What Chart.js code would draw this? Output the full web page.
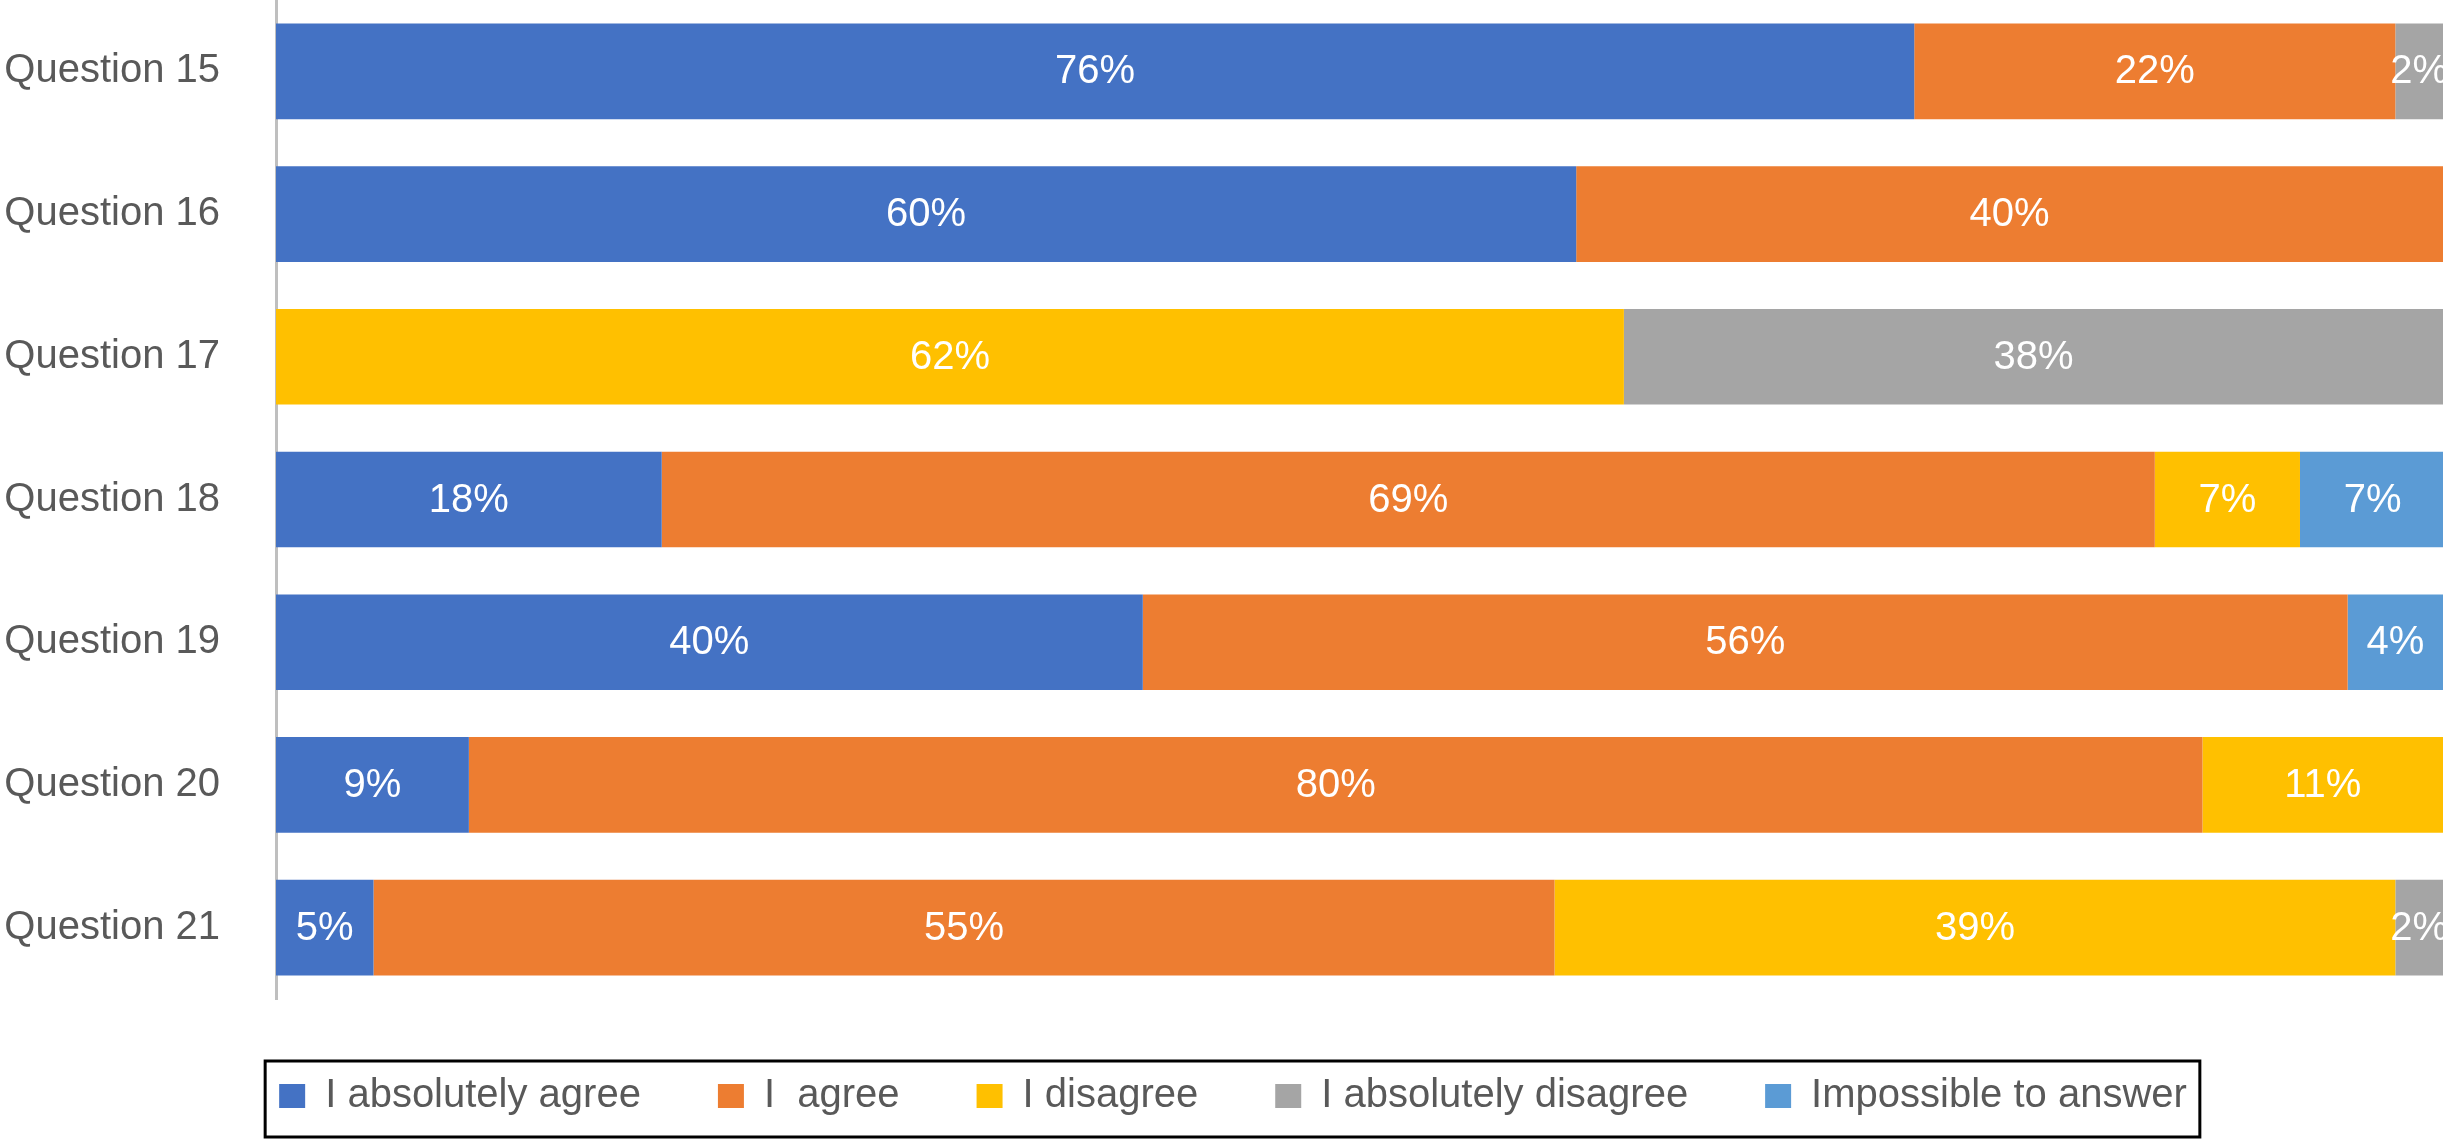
<!DOCTYPE html>
<html>
<head>
<meta charset="utf-8">
<script src="https://cdn.jsdelivr.net/npm/chart.js@4.4.1/dist/chart.umd.min.js"></script>
<style>
  html, body { margin: 0; padding: 0; background: #fff; }
  #wrap { width: 2449px; height: 1140px; }
</style>
</head>
<body>
<div id="wrap"><canvas id="grafico"></canvas></div>
<script>
const preguntas = ["Question 15", "Question 16", "Question 17", "Question 18", "Question 19", "Question 20", "Question 21"];

// porcentajes (segmentos de cada barra)
const absolutamenteDeAcuerdo = [75.6, 60.0, 0, 17.8, 40.0, 8.9, 4.5];
const deAcuerdo = [22.2, 40.0, 0, 68.9, 55.6, 80.0, 54.5];
const enDesacuerdo = [0, 0, 62.2, 6.7, 0, 11.1, 38.8];
const absolutamenteEnDesacuerdo = [2.2, 0, 37.8, 0, 0, 0, 2.2];
const imposibleResponder = [0, 0, 0, 6.7, 4.4, 0, 0];

const series = [
    { label: "I absolutely agree", data: absolutamenteDeAcuerdo, color: "#4472C4" },
    { label: "I  agree", data: deAcuerdo, color: "#ED7D31" },
    { label: "I disagree", data: enDesacuerdo, color: "#FFC000" },
    { label: "I absolutely disagree", data: absolutamenteEnDesacuerdo, color: "#A5A5A5" },
    { label: "Impossible to answer", data: imposibleResponder, color: "#5B9BD5" },
];

const fuente = '"Liberation Sans", Arial, Helvetica, sans-serif';

// etiquetas blancas dentro de cada segmento
const etiquetasBarras = {
    id: "etiquetasBarras",
    afterDatasetsDraw(chart) {
        const ctx = chart.ctx;
        ctx.save();
        ctx.fillStyle = "#FFFFFF";
        ctx.font = `40px ${fuente}`;
        ctx.textAlign = "center";
        ctx.textBaseline = "middle";
        chart.data.datasets.forEach((ds, i) => {
            const meta = chart.getDatasetMeta(i);
            meta.data.forEach((barra, j) => {
                const v = ds.data[j];
                if (!v) return;
                ctx.fillText(Math.round(v) + "%", (barra.x + barra.base) / 2, barra.y + 1);
            });
        });
        ctx.restore();
    },
};

// el eje y empieza en 0 para que los textos no se recorten
const ejeDesdeCero = {
    id: "ejeDesdeCero",
    afterLayout(chart) {
        chart.scales.y.left = 0;
    },
};

// marco negro alrededor de la leyenda
const marcoLeyenda = {
    id: "marcoLeyenda",
    afterDraw(chart) {
        const cajas = chart.legend.legendHitBoxes;
        if (!cajas || !cajas.length) return;
        const primera = cajas[0];
        const ultima = cajas[cajas.length - 1];
        const centro = primera.top + primera.height / 2;
        const ctx = chart.ctx;
        ctx.save();
        ctx.strokeStyle = "#000000";
        ctx.lineWidth = 3;
        const x1 = primera.left - 14;
        const x2 = ultima.left + ultima.width + 13;
        ctx.strokeRect(x1, centro - 35, x2 - x1, 76);
        ctx.restore();
    },
};

const ctx = document.getElementById("grafico");

new Chart(ctx, {
    type: "bar",
    data: {
        labels: preguntas,
        datasets: series.map(s => ({
            label: s.label,
            data: s.data,
            backgroundColor: s.color,
            borderWidth: 0,
            categoryPercentage: 0.67,
            barPercentage: 1,
        })),
    },
    options: {
        indexAxis: "y",
        responsive: true,
        maintainAspectRatio: false,
        animation: false,
        layout: { padding: { left: 23, right: 6, top: 0, bottom: 14 } },
        scales: {
            x: {
                stacked: true,
                min: 0,
                max: 100,
                display: false,
            },
            y: {
                stacked: true,
                grid: { display: false, drawTicks: false },
                border: { display: true, color: "#BFBFBF", width: 3 },
                ticks: {
                    color: "#595959",
                    font: { family: fuente, size: 40 },
                    padding: 56,
                },
                afterFit(escala) {
                    escala.width = 253;
                    escala.paddingTop = 0;
                    escala.paddingBottom = 0;
                },
            },
        },
        plugins: {
            legend: {
                position: "bottom",
                labels: {
                    color: "#595959",
                    font: { family: fuente, size: 40 },
                    boxWidth: 26,
                    boxHeight: 24,
                    padding: 77,
                },
            },
            tooltip: { enabled: false },
        },
    },
    plugins: [etiquetasBarras, ejeDesdeCero, marcoLeyenda],
});
</script>
</body>
</html>
